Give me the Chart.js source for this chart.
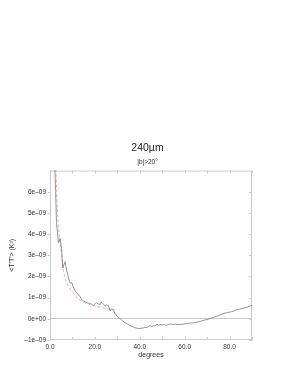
<!DOCTYPE html>
<html>
<head>
<meta charset="utf-8">
<script src="https://cdn.jsdelivr.net/npm/chart.js@4/dist/chart.umd.min.js"></script>
<style>
  html, body { margin: 0; padding: 0; background: #fff; }
  #wrap { width: 295px; height: 382px; }
</style>
</head>
<body>
<div id="wrap"><canvas id="chart"></canvas></div>
<script>
// values in units of 1e-9 K^2
const UNIT = 1e-9;

const dataDeg = [1.9, 2.2, 2.5, 2.9, 3.3, 3.7, 4.5, 5.2, 5.7, 6.2, 6.7, 7.4, 8.2, 8.7, 9.2, 9.7, 10.2, 11.2, 12.0, 12.6,
  13.4, 14.1, 15.0, 16.4, 17.2, 17.9, 18.6, 19.3, 20.0, 20.8, 21.5, 22.3, 23.0, 23.8, 24.5, 25.2, 26.0, 26.8, 27.4, 28.0,
  29.0, 30.0, 31.3, 32.4, 33.5, 35.0, 36.5, 38.0, 39.4, 40.5, 41.6, 42.4, 43.2, 43.9, 44.6, 45.3, 46.0, 46.8, 47.6, 48.3,
  49.2, 50.0, 50.6, 51.5, 52.5, 53.6, 54.6, 55.8, 57.0, 58.0, 59.5, 61.0, 62.5, 64.0, 65.5, 67.0, 68.5, 70.0, 71.4, 73.0,
  74.5, 76.0, 77.5, 79.0, 80.5, 81.8, 83.0, 84.5, 86.0, 87.8, 89.0, 90.0];
const dataVal = [8.0, 7.0, 6.0, 4.55, 4.1, 3.6, 3.8, 3.3, 2.4, 2.55, 2.7, 2.3, 1.95, 1.75, 1.67, 1.72, 1.55, 1.3, 1.22, 1.15,
  1.05, 0.91, 0.84, 0.76, 0.74, 0.72, 0.68, 0.63, 0.70, 0.76, 0.70, 0.68, 0.79, 0.70, 0.60, 0.66, 0.63, 0.36, 0.47, 0.44,
  0.25, 0.12, 0.0, -0.10, -0.19, -0.28, -0.35, -0.42, -0.46, -0.45, -0.43, -0.40, -0.42, -0.35, -0.32, -0.37, -0.33, -0.34, -0.26, -0.30,
  -0.27, -0.29, -0.27, -0.30, -0.28, -0.24, -0.27, -0.25, -0.28, -0.26, -0.25, -0.22, -0.20, -0.19, -0.15, -0.12, -0.07, -0.03, 0.02, 0.08,
  0.13, 0.20, 0.26, 0.29, 0.33, 0.36, 0.42, 0.46, 0.50, 0.55, 0.60, 0.63];

const modelDeg = [2.4, 2.6, 3.0, 3.7, 4.8, 5.9, 7.4, 9.7, 12.6, 16.4, 20.8, 25.3, 29.5];
const modelVal = [8.0, 7.2, 6.0, 4.4, 3.3, 2.34, 1.7, 1.3, 0.95, 0.72, 0.6, 0.47, 0.41];

const xTicks = [0, 10, 20, 30, 40, 50, 60, 70, 80, 90];
const yTicks = [-1, 0, 1, 2, 3, 4, 5, 6];

const toPoints = (xs, ys) => xs.map((x, i) => ({ x: x, y: ys[i] * UNIT }));

const FONT = '"Liberation Sans", Arial, sans-serif';
const FRAME = '#cccccc';

function fmtExp(v) {
  return v.toExponential(0).replace(/e([+-])(\d)$/, 'e$10$2').replace(/-/g, '\u2013');
}

// box round the plot with short ticks, like the original
const framePlugin = {
  id: 'frame',
  beforeDatasetsDraw(chart) {
    const { ctx, chartArea: a, scales } = chart;
    ctx.save();
    ctx.strokeStyle = FRAME;
    ctx.lineWidth = 1;
    ctx.strokeRect(a.left + 0.5, a.top + 0.5, a.right - a.left - 1, a.bottom - a.top - 1);
    ctx.beginPath();
    xTicks.forEach(t => {
      const px = Math.round(scales.x.getPixelForValue(t)) + 0.5;
      ctx.moveTo(px, a.top); ctx.lineTo(px, a.top + 3);
      ctx.moveTo(px, a.bottom); ctx.lineTo(px, a.bottom - 3);
    });
    yTicks.forEach(t => {
      const py = Math.round(scales.y.getPixelForValue(t * UNIT)) + 0.5;
      ctx.moveTo(a.left, py); ctx.lineTo(a.left - 2.5, py);
      ctx.moveTo(a.right, py); ctx.lineTo(a.right - 3, py);
    });
    ctx.stroke();
    ctx.restore();
  }
};

new Chart(document.getElementById('chart'), {
  type: 'line',
  data: {
    datasets: [
      {
        label: 'data',
        data: toPoints(dataDeg, dataVal),
        borderColor: '#6a6a6a',
        borderWidth: 0.7,
        pointRadius: 0,
        tension: 0,
      },
      {
        label: 'model',
        data: toPoints(modelDeg, modelVal),
        borderColor: '#f29a9a',
        borderWidth: 0.8,
        borderDash: [3, 2],
        pointRadius: 0,
        tension: 0.3,
      },
    ],
  },
  options: {
    responsive: true,
    maintainAspectRatio: false,
    animation: false,
    layout: { padding: 0 },
    plugins: {
      legend: { display: false },
      tooltip: { enabled: false },
      title: {
        display: true,
        text: '240\u00b5m',
        color: '#222',
        font: { family: FONT, size: 10.5, weight: 'normal', lineHeight: 1.2 },
        padding: { top: 141.5, bottom: 4.7 },
      },
      subtitle: {
        display: true,
        text: '|b|>20\u00b0',
        color: '#333',
        font: { family: FONT, size: 6.5, lineHeight: 1.2 },
        padding: { top: 0, bottom: 4 },
      },
    },
    scales: {
      x: {
        type: 'linear',
        min: 0,
        max: 90,
        afterFit: s => { s.height = 42; },
        border: { display: false },
        grid: { display: false, drawTicks: false },
        ticks: {
          stepSize: 10,
          padding: 3,
          maxRotation: 0,
          autoSkip: false,
          color: '#333',
          font: { family: FONT, size: 6.5 },
          callback: v => (v % 20 === 0 ? v.toFixed(1) : ''),
        },
        title: {
          display: true,
          text: 'degrees',
          color: '#333',
          font: { family: FONT, size: 7 },
          padding: { top: 22.8, bottom: 22.8 },
        },
      },
      y: {
        type: 'linear',
        min: -1 * UNIT,
        max: 7 * UNIT,
        afterFit: s => { s.width = 50; },
        border: { display: false },
        grid: {
          drawTicks: false,
          color: c => (c.tick && Math.abs(c.tick.value) < 1e-15 ? '#bdbdbd' : 'rgba(0,0,0,0)'),
          lineWidth: 0.8,
        },
        ticks: {
          stepSize: UNIT,
          padding: 4,
          autoSkip: false,
          color: '#333',
          font: { family: FONT, size: 6.5 },
          callback: v => (v > 6.5 * UNIT ? '' : fmtExp(v)),
        },
        title: {
          display: true,
          text: "<T'T'> (K\u00b2)",
          color: '#333',
          font: { family: FONT, size: 7 },
          padding: { top: 7.5, bottom: 7.5 },
        },
      },
      yRight: {
        type: 'linear',
        position: 'right',
        min: -1,
        max: 7,
        afterFit: s => { s.width = 43; },
        border: { display: false },
        grid: { display: false, drawTicks: false },
        ticks: { display: false },
      },
    },
  },
  plugins: [framePlugin],
});
</script>
</body>
</html>
